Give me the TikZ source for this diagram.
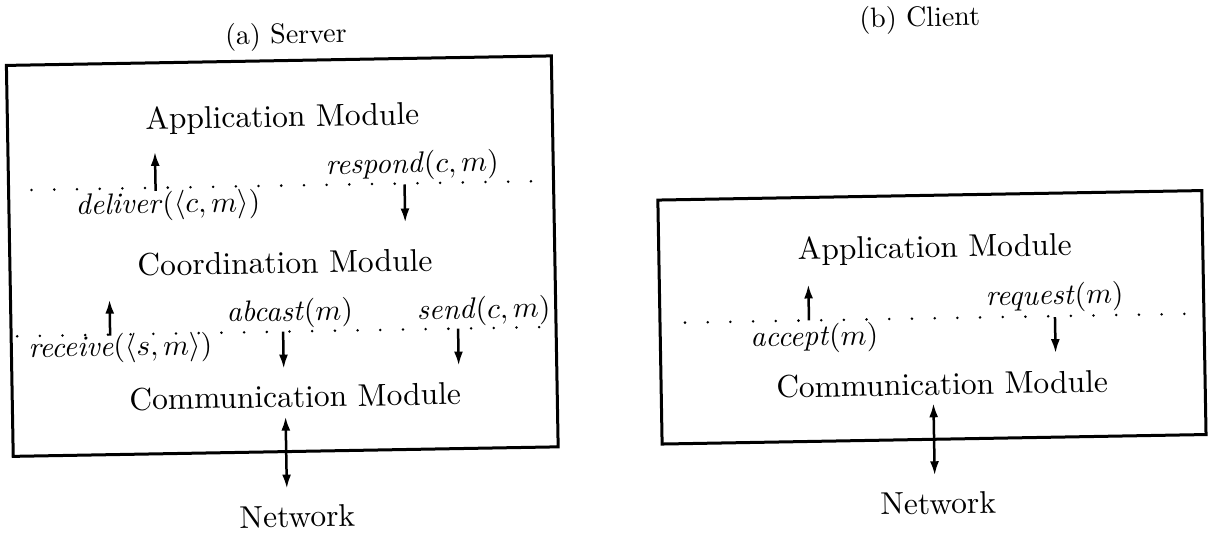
\documentclass[tikz,border=0pt]{standalone}
\usetikzlibrary{arrows.meta}
\begin{document}
\begin{tikzpicture}[x=1pt,y=-1pt,
  big/.style={font=\normalsize, inner sep=0pt, scale=3.15},
  lab/.style={font=\normalsize, inner sep=0pt, scale=2.95},
  ttl/.style={font=\normalsize, inner sep=0pt, scale=2.8},
  frame/.style={draw, line width=3pt},
  sep/.style={line width=2.8pt, dash pattern=on 0pt off 22.7pt, line cap=round},
  arr/.style={line width=2.5pt, -{Latex[length=14pt,width=9pt]}},
  darr/.style={line width=2.5pt, {Latex[length=14pt,width=9pt]}-{Latex[length=14pt,width=9pt]}}]
\useasboundingbox (0,0) rectangle (1210,533);
\begin{scope}[rotate around={1:(605,266)}, transform shape]

% ---------- (a) Server ----------
\node[ttl] (ta) at (290,31) {(a) Server};
\coordinate (sbox1) at (10,55);
\coordinate (sbox2) at (555,446);
\draw[frame] (sbox1) rectangle (sbox2);

\node[big] (sapp) at (285,113) {Application Module};
\node[lab] (sresp) at (414,162) {\textit{respond}$(c,m)$};
\node[lab] (sdel) at (169,198) {\textit{deliver}$(\langle c,m\rangle)$};
\coordinate (sd1) at (33,180);
\coordinate (sd2) at (550,180);
\draw[sep] (sd1) -- (sd2);
\coordinate (sa1s) at (157,183); \coordinate (sa1e) at (157,144);
\draw[arr] (sa1s) -- (sa1e);
\coordinate (sa2s) at (406,181); \coordinate (sa2e) at (406,219);
\draw[arr] (sa2s) -- (sa2e);

\node[big] (scoord) at (285,257) {Coordination Module};
\node[lab] (sab) at (289,308) {\textit{abcast}$(m)$};
\node[lab] (ssend) at (483,309) {\textit{send}$(c,m)$};
\node[lab] (srec) at (119,340) {\textit{receive}$(\langle s,m\rangle)$};
\coordinate (sd3) at (16,326);
\coordinate (sd4) at (545,326);
\draw[sep] (sd3) -- (sd4);
\coordinate (sa3s) at (109,327); \coordinate (sa3e) at (109,291);
\draw[arr] (sa3s) -- (sa3e);
\coordinate (sa4s) at (282,326); \coordinate (sa4e) at (282,363);
\draw[arr] (sa4s) -- (sa4e);
\coordinate (sa5s) at (457,326); \coordinate (sa5e) at (457,363);
\draw[arr] (sa5s) -- (sa5e);

\node[big] (scomm) at (293,391) {Communication Module};
\node[big] (snet) at (293,511) {Network};
\coordinate (sn1) at (283,411); \coordinate (sn2) at (283,483);
\draw[darr] (sn1) -- (sn2);

% ---------- (b) Client ----------
\node[ttl] (tb) at (924,25) {(b) Client};
\coordinate (cbox1) at (659,201);
\coordinate (cbox2) at (1203,445);
\draw[frame] (cbox1) rectangle (cbox2);

\node[big] (capp) at (935,255) {Application Module};
\node[lab] (creq) at (1054,305) {\textit{request}$(m)$};
\node[lab] (cacc) at (813,342) {\textit{accept}$(m)$};
\coordinate (cd1) at (684,324);
\coordinate (cd2) at (1196,324);
\draw[sep] (cd1) -- (cd2);
\coordinate (ca1s) at (808,324); \coordinate (ca1e) at (808,288);
\draw[arr] (ca1s) -- (ca1e);
\coordinate (ca2s) at (1054,325); \coordinate (ca2e) at (1054,361);
\draw[arr] (ca2s) -- (ca2e);

\node[big] (ccomm) at (940,390) {Communication Module};
\node[big] (cnet) at (934,509) {Network};
\coordinate (cn1) at (931,409); \coordinate (cn2) at (931,481);
\draw[darr] (cn1) -- (cn2);
\end{scope}
\end{tikzpicture}
\end{document}
